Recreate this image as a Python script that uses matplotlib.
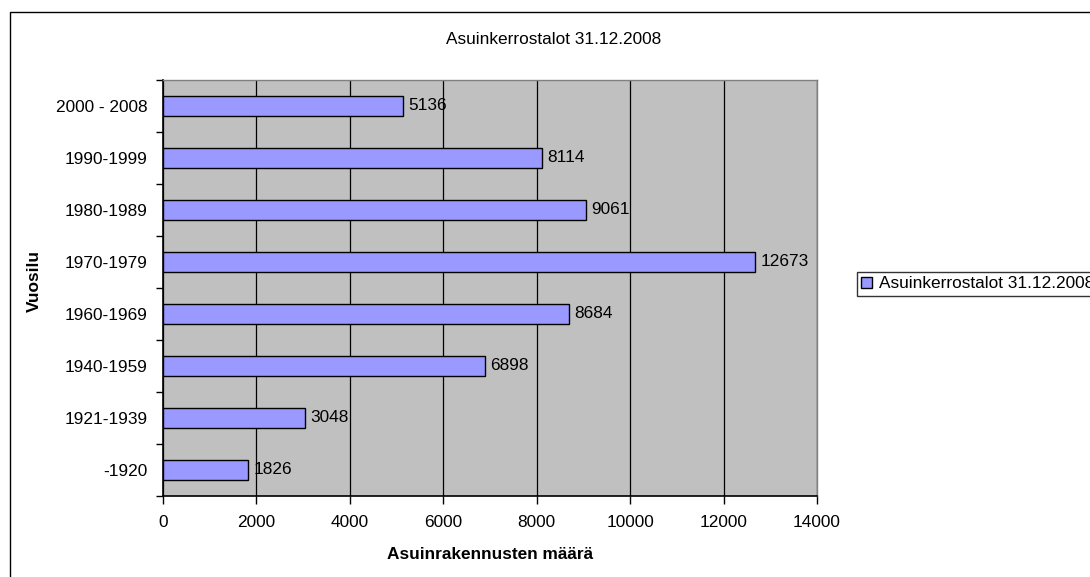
import matplotlib
matplotlib.use('Agg')
import matplotlib.pyplot as plt
from matplotlib.patches import Rectangle
from matplotlib.ticker import MultipleLocator

plt.rcParams['font.family'] = ['Liberation Sans', 'DejaVu Sans']

# Rakennusvuodet (alhaalta ylös) ja asuinkerrostalojen määrät
vuosilu = ['-1920', '1921-1939', '1940-1959', '1960-1969',
           '1970-1979', '1980-1989', '1990-1999', '2000 - 2008']
maarat = [1826, 3048, 6898, 8684, 12673, 9061, 8114, 5136]
sarja = 'Asuinkerrostalot 31.12.2008'

FS = 12.4
W, H = 1090, 577
fig = plt.figure(figsize=(W / 100, H / 100), dpi=100)

# kaavion reunus (oikea ja ala menevät kuvan ulkopuolelle)
fig.patches.append(Rectangle((10 / W, -0.1), 1.2, 1 - 12 / H + 0.1,
                             transform=fig.transFigure, fill=False,
                             edgecolor='black', linewidth=1))

ax = fig.add_axes([163 / W, 1 - 496 / H, 654 / W, 416 / H])
ax.set_facecolor('#C0C0C0')

y = list(range(len(vuosilu)))
palkit = ax.barh(y, maarat, height=0.4, color='#9999FF',
                 edgecolor='black', linewidth=1, label=sarja, zorder=3)
for yy, v in zip(y, maarat):
    ax.text(v + 110, yy, str(v), va='center', ha='left', fontsize=FS, zorder=4)

ax.set_xlim(0, 14000)
ax.set_ylim(-0.5, len(vuosilu) - 0.5)
ax.xaxis.set_major_locator(MultipleLocator(2000))
ax.grid(axis='x', color='black', linewidth=0.9, zorder=1)
ax.set_axisbelow(True)

ax.set_yticks(y)
ax.set_yticklabels(vuosilu, fontsize=FS)
ax.set_yticks([i - 0.5 for i in range(len(vuosilu) + 1)], minor=True)
ax.tick_params(axis='y', which='major', length=0, pad=11)
ax.tick_params(axis='y', which='minor', length=5, width=1, color='black')
ax.tick_params(axis='x', length=6, width=1, labelsize=FS, pad=8)

for s in ['top', 'right']:
    ax.spines[s].set_color('#808080')
    ax.spines[s].set_linewidth(1)
for s in ['left', 'bottom']:
    ax.spines[s].set_color('black')
    ax.spines[s].set_linewidth(1.2)

ax.set_xlabel('Asuinrakennusten määrä', fontsize=FS, fontweight='bold',
              labelpad=12)
fig.text(34 / W, 1 - 281 / H, 'Vuosilu', rotation=90, fontsize=FS,
         fontweight='bold', ha='center', va='center')
fig.text(554 / W, 1 - 40 / H, sarja, fontsize=FS, ha='center', va='center')

leg = fig.legend(handles=[palkit], labels=[sarja], loc='upper left',
                 bbox_to_anchor=(857 / W, 1 - 272 / H), fontsize=FS,
                 frameon=True, fancybox=False, handlelength=0.6,
                 handleheight=0.6, handletextpad=0.4, borderpad=0.25,
                 borderaxespad=0)
leg.get_frame().set_edgecolor('black')
leg.get_frame().set_linewidth(1)

fig.savefig('out.png', dpi=100)
